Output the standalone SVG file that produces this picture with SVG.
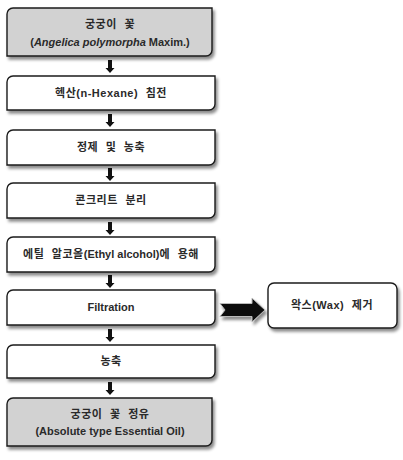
<svg xmlns="http://www.w3.org/2000/svg" width="403" height="460" viewBox="0 0 403 460">
<defs>
<filter id="sh" x="-10%" y="-20%" width="130%" height="160%">
<feDropShadow dx="2" dy="3" stdDeviation="1.8" flood-color="#000" flood-opacity="0.45"/>
</filter>
<style>
.box{stroke:#1a1a1a;stroke-width:1.4;filter:url(#sh)}
.w{fill:#fff}
.g{fill:#d2d2d2}
text{font-family:"Liberation Sans","Noto Sans CJK KR",sans-serif;font-size:11px;font-weight:bold;fill:#2a2a2a;text-anchor:middle}
.k{letter-spacing:0.5px;word-spacing:4px}
.e{word-spacing:0;letter-spacing:0}
.ar{fill:#111}
</style>
<path id="da" d="M-2,0 H2 V8 H4.5 L0,13 L-4.5,8 H-2 Z"/>
</defs>
<rect width="403" height="460" fill="#fff"/>
<g id="connectors">
<use href="#da" class="ar" x="110" y="60"/>
<use href="#da" class="ar" x="110" y="114"/>
<use href="#da" class="ar" x="110" y="168"/>
<use href="#da" class="ar" x="110" y="222"/>
<use href="#da" class="ar" x="110" y="275"/>
<use href="#da" class="ar" x="110" y="329"/>
<use href="#da" class="ar" x="110" y="382"/>
<path d="M220,303.5 H252 V298 L265,310 L252,322 V316.5 H220 L225,310 Z" fill="#111" stroke="#bbb" stroke-width="1" filter="url(#sh)"/>
</g>
<g id="n1">
<path class="box g" d="M13,8 H212 V50 A6,6 0 0 1 206,56 H7 V14 A6,6 0 0 1 13,8 Z"/>
<text class="k" x="110" y="28">궁궁이 꽃</text>
<text x="110" y="46">(<tspan font-style="italic">Angelica polymorpha</tspan> Maxim.)</text>
</g>
<g id="n2">
<path class="box w" d="M13,76 H215 V104 A6,6 0 0 1 209,110 H7 V82 A6,6 0 0 1 13,76 Z"/>
<text class="k" x="111" y="97">헥산(n-Hexane) 침전</text>
</g>
<g id="n3">
<path class="box w" d="M13,130 H215 V159 A6,6 0 0 1 209,165 H7 V136 A6,6 0 0 1 13,130 Z"/>
<text class="k" x="111" y="151">정제 및 농축</text>
</g>
<g id="n4">
<path class="box w" d="M13,183 H215 V212 A6,6 0 0 1 209,218 H7 V189 A6,6 0 0 1 13,183 Z"/>
<text class="k" x="111" y="204">콘크리트 분리</text>
</g>
<g id="n5">
<path class="box w" d="M13,237 H215 V266 A6,6 0 0 1 209,272 H7 V243 A6,6 0 0 1 13,237 Z"/>
<text class="k" x="111" y="258">에틸 알코올<tspan class="e">(Ethyl alcohol)</tspan>에 용해</text>
</g>
<g id="n6">
<path class="box w" d="M13,290 H215 V319 A6,6 0 0 1 209,325 H7 V296 A6,6 0 0 1 13,290 Z"/>
<text x="111" y="311">Filtration</text>
</g>
<g id="n7">
<path class="box w" d="M13,345 H215 V372 A6,6 0 0 1 209,378 H7 V351 A6,6 0 0 1 13,345 Z"/>
<text class="k" x="111" y="365">농축</text>
</g>
<g id="n8">
<path class="box g" d="M13,398 H212 V440 A6,6 0 0 1 206,446 H7 V404 A6,6 0 0 1 13,398 Z"/>
<text class="k" x="110" y="418">궁궁이 꽃 정유</text>
<text x="110" y="435">(Absolute type Essential Oil)</text>
</g>
<g id="n9">
<rect class="box w" x="268" y="283" width="129" height="45" rx="6"/>
<text class="k" x="332" y="309">왁스(Wax) 제거</text>
</g>
</svg>
